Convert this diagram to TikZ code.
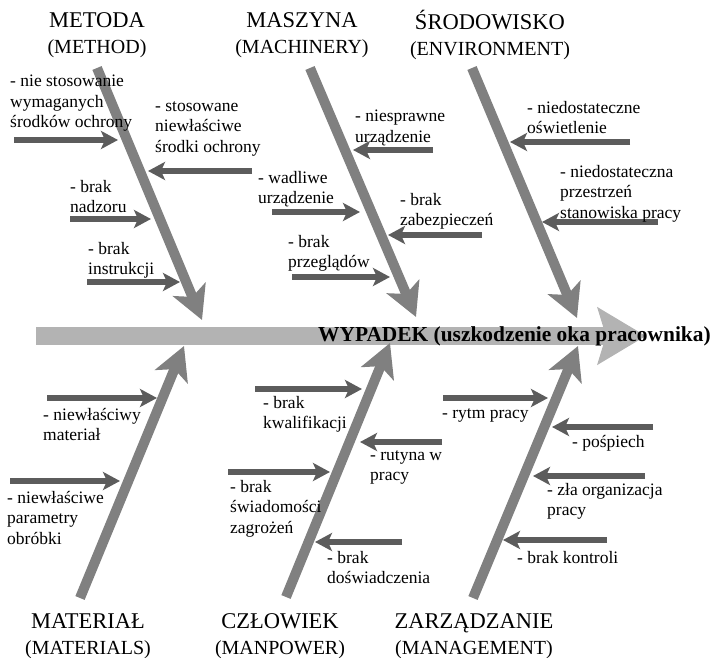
\documentclass[tikz,border=0pt]{standalone}
\usepackage{fontspec}
\setmainfont{Liberation Serif}
\usetikzlibrary{arrows.meta}
\definecolor{spinegray}{HTML}{B3B3B3}
\definecolor{bonegray}{HTML}{808080}
\definecolor{subgray}{HTML}{5C5C5C}
\begin{document}
\begin{tikzpicture}[x=1pt,y=-1pt,
  spine/.style={draw=spinegray, line width=18pt, -{Stealth[length=48pt,width=56pt,inset=8pt]}},
  bone/.style={draw=bonegray, line width=10pt, -{Stealth[length=33pt,width=35pt,inset=8pt]}},
  sub/.style={draw=subgray, line width=6pt, -{Stealth[length=17pt,width=18pt,inset=4pt]}},
  lbl/.style={anchor=north west, inner sep=0pt, align=left, font=\fontsize{17.5}{20.5}\selectfont},
  ttl/.style={align=center, inner sep=0pt, font=\fontsize{20}{25.5}\selectfont},
]
\useasboundingbox (0,0) rectangle (713,658);

% spine
\coordinate (sp0) at (36,336);
\coordinate (sp1) at (646,336);
\draw[spine] (sp0) -- (sp1);

% titles
\node[ttl] (tMet) at (97,35) {{\fontsize{22.5}{26}\selectfont METODA}\\(METHOD)};
\node[ttl] (tMas) at (302,35) {{\fontsize{22.5}{26}\selectfont MASZYNA}\\(MACHINERY)};
\node[ttl] (tSro) at (490,35) {{\fontsize{22.5}{26}\selectfont ŚRODOWISKO}\\(ENVIRONMENT)};
\node[ttl] (tMat) at (88,636) {{\fontsize{22.5}{26}\selectfont MATERIAŁ}\\(MATERIALS)};
\node[ttl] (tCzl) at (280,636) {{\fontsize{22.5}{26}\selectfont CZŁOWIEK}\\(MANPOWER)};
\node[ttl] (tZar) at (474,636) {{\fontsize{22.5}{26}\selectfont ZARZĄDZANIE}\\(MANAGEMENT)};

% bones
\coordinate (bMet0) at (97,68);  \coordinate (bMet1) at (202,320);
\coordinate (bMas0) at (310,68); \coordinate (bMas1) at (416,317);
\coordinate (bSro0) at (472,68); \coordinate (bSro1) at (577,318);
\coordinate (bMat0) at (80,598); \coordinate (bMat1) at (184,346);
\coordinate (bCzl0) at (286,597); \coordinate (bCzl1) at (390,343);
\coordinate (bZar0) at (473,598); \coordinate (bZar1) at (578,346);
\draw[bone] (bMet0) -- (bMet1);
\draw[bone] (bMas0) -- (bMas1);
\draw[bone] (bSro0) -- (bSro1);
\draw[bone] (bMat0) -- (bMat1);
\draw[bone] (bCzl0) -- (bCzl1);
\draw[bone] (bZar0) -- (bZar1);

% sub-cause arrows
\coordinate (a1s) at (14,140);  \coordinate (a1e) at (118,140);
\coordinate (a2s) at (252,171); \coordinate (a2e) at (148,171);
\coordinate (a3s) at (70,219);  \coordinate (a3e) at (151,219);
\coordinate (a4s) at (87,282);  \coordinate (a4e) at (180,282);
\coordinate (a5s) at (433,150); \coordinate (a5e) at (353,150);
\coordinate (a6s) at (272,212); \coordinate (a6e) at (360,212);
\coordinate (a7s) at (482,235); \coordinate (a7e) at (388,235);
\coordinate (a8s) at (292,277); \coordinate (a8e) at (390,277);
\coordinate (a9s) at (630,142); \coordinate (a9e) at (510,142);
\coordinate (a10s) at (658,222); \coordinate (a10e) at (542,222);
\coordinate (a11s) at (47,398);  \coordinate (a11e) at (157,398);
\coordinate (a12s) at (10,481);  \coordinate (a12e) at (120,481);
\coordinate (a13s) at (255,389); \coordinate (a13e) at (362,389);
\coordinate (a14s) at (442,442); \coordinate (a14e) at (360,442);
\coordinate (a15s) at (228,472); \coordinate (a15e) at (330,472);
\coordinate (a16s) at (402,542); \coordinate (a16e) at (315,542);
\coordinate (a17s) at (443,398); \coordinate (a17e) at (548,398);
\coordinate (a18s) at (653,427); \coordinate (a18e) at (552,427);
\coordinate (a19s) at (645,476); \coordinate (a19e) at (533,476);
\coordinate (a20s) at (607,540); \coordinate (a20e) at (503,540);
\foreach \i in {1,...,20} {\draw[sub] (a\i s) -- (a\i e);}

% labels
\node[lbl] (l1) at (10,75) {- nie stosowanie\\wymaganych\\środków ochrony};
\node[lbl] (l2) at (155,101) {- stosowane\\niewłaściwe\\środki ochrony};
\node[lbl] (l3) at (70,180) {- brak\\nadzoru};
\node[lbl] (l4) at (88,242) {- brak\\instrukcji};
\node[lbl] (l5) at (355,110) {- niesprawne\\urządzenie};
\node[lbl] (l6) at (258,171) {- wadliwe\\urządzenie};
\node[lbl] (l7) at (400,193) {- brak\\zabezpieczeń};
\node[lbl] (l8) at (288,235) {- brak\\przeglądów};
\node[lbl] (l9) at (527,101) {- niedostateczne\\oświetlenie};
\node[lbl] (l10) at (560,165) {- niedostateczna\\przestrzeń\\stanowiska pracy};
\node[lbl] (l11) at (43,408) {- niewłaściwy\\materiał};
\node[lbl] (l12) at (7,491) {- niewłaściwe\\parametry\\obróbki};
\node[lbl] (l13) at (263,396) {- brak\\kwalifikacji};
\node[lbl] (l14) at (370,450) {- rutyna w\\pracy};
\node[lbl] (l15) at (230,480) {- brak\\świadomości\\zagrożeń};
\node[lbl] (l16) at (327,551) {- brak\\doświadczenia};
\node[lbl] (l17) at (442,408) {- rytm pracy};
\node[lbl] (l18) at (572,435) {- pośpiech};
\node[lbl] (l19) at (547,483) {- zła organizacja\\pracy};
\node[lbl] (l20) at (517,551) {- brak kontroli};

% effect
\node[anchor=west, inner sep=0pt, font=\fontsize{21.4}{24}\selectfont\bfseries] (wyp) at (318,336) {WYPADEK (uszkodzenie oka pracownika)};
\end{tikzpicture}
\end{document}
